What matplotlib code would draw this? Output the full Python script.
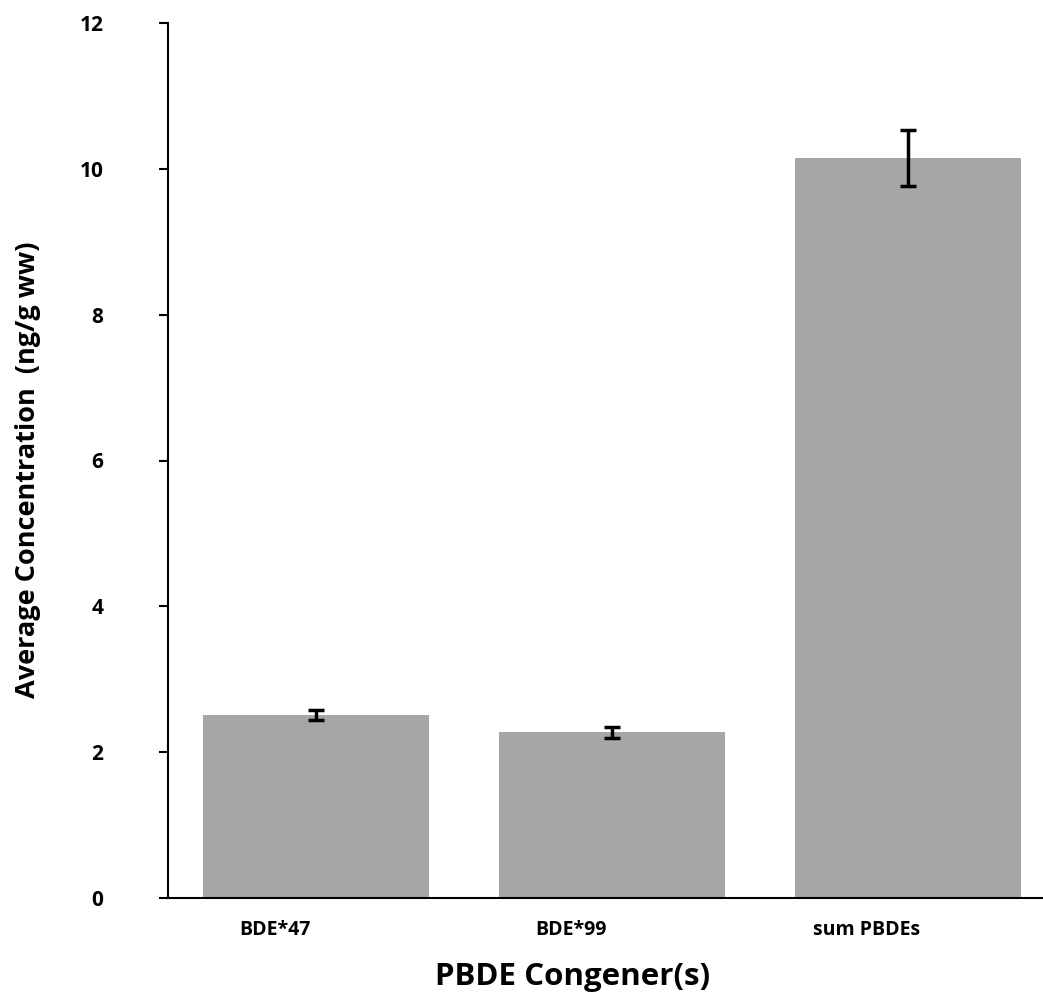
import numpy as np
import matplotlib
matplotlib.use('Agg')
import matplotlib.pyplot as plt
import matplotlib.transforms as mtransforms

# values
congeners = ['BDE*47', 'BDE*99', 'sum PBDEs']
avg_conc = [2.51, 2.27, 10.15]
conc_err = [0.07, 0.08, 0.38]
y_ticks = [0, 2, 4, 6, 8, 10, 12]

plt.rcParams['font.family'] = ['Open Sans', 'DejaVu Sans']
plt.rcParams['font.weight'] = 'bold'

fig = plt.figure(figsize=(10.43, 10), dpi=100)
ax = fig.add_axes([168/1043, 102/1000, 875/1043, 875/1000])

x = np.arange(len(congeners))
ax.bar(x, avg_conc, width=0.764, color='#a6a6a6', zorder=2)
ax.errorbar(x, avg_conc, yerr=conc_err, fmt='none', ecolor='black',
            elinewidth=2.5, capsize=5.8, capthick=2.5, zorder=3)

ax.set_xlim(-0.5, -0.5 + 875/296)
ax.set_ylim(0, 12)
ax.set_yticks(y_ticks)
ax.set_yticklabels([str(t) for t in y_ticks], fontsize=15, fontweight='bold')
ax.set_xticks(x)
ax.set_xticklabels(congeners, fontsize=14, fontweight='bold')

ax.spines['top'].set_visible(False)
ax.spines['right'].set_visible(False)
ax.spines['left'].set_linewidth(1.5)
ax.spines['bottom'].set_linewidth(1.5)
ax.tick_params(axis='y', direction='out', length=6.5, width=1.5, pad=40)
ax.tick_params(axis='x', length=0, pad=16)

# labels under the bars sit a bit left of the bar centres
shift = mtransforms.ScaledTranslation(-41/100, 0, fig.dpi_scale_trans)
for lab in ax.get_xticklabels():
    lab.set_transform(lab.get_transform() + shift)

ax.set_xlabel('PBDE Congener(s)', fontsize=22.5, fontweight='bold', va='center')
ax.xaxis.set_label_coords(0.462, -79/875)
ax.set_ylabel('Average Concentration  (ng/g ww)', fontsize=19.5, fontweight='bold', va='center')
ax.yaxis.set_label_coords(-140/875, 0.49)

fig.savefig('out.png', dpi=100)
